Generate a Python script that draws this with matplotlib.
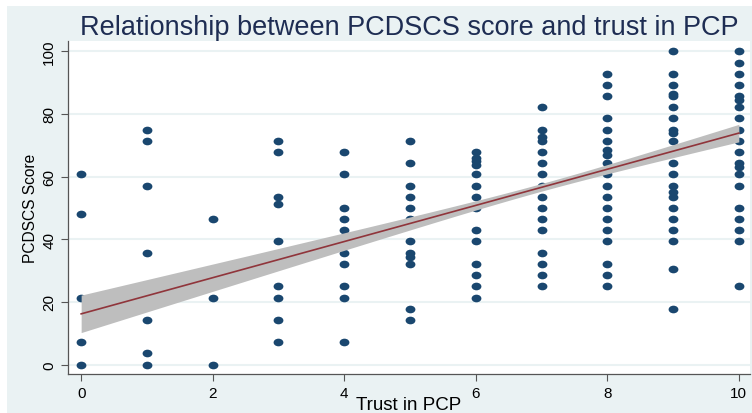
import matplotlib
matplotlib.use("Agg")
import matplotlib.pyplot as plt
import numpy as np
from matplotlib.patches import Rectangle
from matplotlib.path import Path
from matplotlib.transforms import Affine2D

# PCDSCS score observed at each level of trust in PCP
scores = {
    0: [60.7, 48.2, 21.4, 7.1, 0.0],
    1: [75.0, 71.4, 57.1, 35.7, 14.3, 3.6, 0.0],
    2: [46.4, 21.4, 0.0],
    3: [71.4, 67.9, 53.6, 51.2, 39.3, 25.0, 21.4, 14.3, 7.1],
    4: [67.9, 60.7, 50.0, 46.4, 42.9, 39.3, 35.7, 32.1, 25.0, 21.4, 7.1],
    5: [71.4, 64.3, 57.1, 53.6, 50.0, 46.4, 39.3, 35.7, 34.5, 32.1, 17.9, 14.3],
    6: [67.9, 66.0, 65.0, 63.7, 60.7, 57.1, 53.6, 50.0, 42.9, 39.3, 32.1,
        28.6, 25.0, 21.4],
    7: [82.1, 75.0, 72.5, 71.4, 67.9, 64.3, 60.7, 57.1, 53.6, 50.0, 46.4,
        42.9, 35.7, 32.1, 28.6, 25.0],
    8: [92.9, 89.3, 85.7, 78.6, 75.0, 71.4, 68.5, 67.0, 64.3, 60.7, 57.1,
        53.6, 50.0, 46.4, 42.9, 39.3, 32.1, 28.6, 25.0],
    9: [100.0, 92.9, 89.3, 86.5, 85.7, 82.1, 78.6, 75.0, 74.0, 71.4, 67.9,
        64.3, 60.7, 57.1, 55.0, 53.6, 50.0, 46.4, 42.9, 39.3, 30.5, 17.9],
    10: [100.0, 96.4, 92.9, 89.3, 85.7, 84.5, 82.1, 78.6, 75.0, 71.4, 67.9,
         64.3, 63.0, 60.7, 57.1, 50.0, 46.4, 42.9, 39.3, 25.0],
}

# linear fit and 95% CI
fit_intercept = 16.2
fit_slope = 5.77
ci_center = 7.0
ci_base = 1.5
ci_curve = 0.7

x_ticks = [0, 2, 4, 6, 8, 10]
y_ticks = [0, 20, 40, 60, 80, 100]

trust = np.concatenate([[k] * len(v) for k, v in scores.items()])
score = np.concatenate([v for v in scores.values()])

bg = "#EAF2F3"
navy = "#1A476F"

fig = plt.figure(figsize=(7.52, 4.14), dpi=100)
fig.patch.set_facecolor("white")
fig.patches.append(Rectangle((7 / 752, 0), 1, 407 / 414, transform=fig.transFigure,
                             facecolor=bg, edgecolor="none", zorder=-10))

ax = fig.add_axes([68 / 752, 39 / 414, 682 / 752, 333 / 414])
ax.set_facecolor("white")

dot = Path.unit_circle().transformed(Affine2D().scale(1, 0.78))
ax.scatter(trust, score, marker=dot, s=50, color=navy, linewidths=0, zorder=2)

xs = np.linspace(0, 10, 200)
yfit = fit_intercept + fit_slope * xs
hw = np.sqrt(ci_base + ci_curve * (xs - ci_center) ** 2)
ax.fill_between(xs, yfit - hw, yfit + hw, color="#BEBEBE", linewidth=0, zorder=3)
ax.plot(xs, yfit, color="#90353B", linewidth=1.2, zorder=4)

ax.set_xlim(-0.2, 10.17)
ax.set_ylim(-3.0, 103.3)
ax.set_xticks(x_ticks)
ax.set_yticks(y_ticks)
ax.yaxis.grid(True, color=bg, linewidth=1.5, zorder=0)
ax.set_axisbelow(True)

for s in ["top", "right"]:
    ax.spines[s].set_visible(False)
for s in ["left", "bottom"]:
    ax.spines[s].set_color("#555555")
    ax.spines[s].set_linewidth(0.9)

ax.tick_params(axis="both", direction="out", length=5, color="#555555",
               labelsize=11, labelcolor="black")
for lbl in ax.get_yticklabels():
    lbl.set_rotation(90)
    lbl.set_va("center")
    lbl.set_fontfamily("Liberation Sans")
for lbl in ax.get_xticklabels():
    lbl.set_fontfamily("Liberation Sans")

ax.set_xlabel("Trust in PCP", fontsize=13.5, family="Liberation Sans", labelpad=-3)
ax.set_ylabel("PCDSCS Score", fontsize=11.2, family="Liberation Sans", labelpad=3)
ax.set_title("Relationship between PCDSCS score and trust in PCP", fontsize=19.5,
             family="Liberation Sans", color="#1E2D53", pad=5)

fig.savefig("out.png", dpi=100, facecolor=fig.get_facecolor())
